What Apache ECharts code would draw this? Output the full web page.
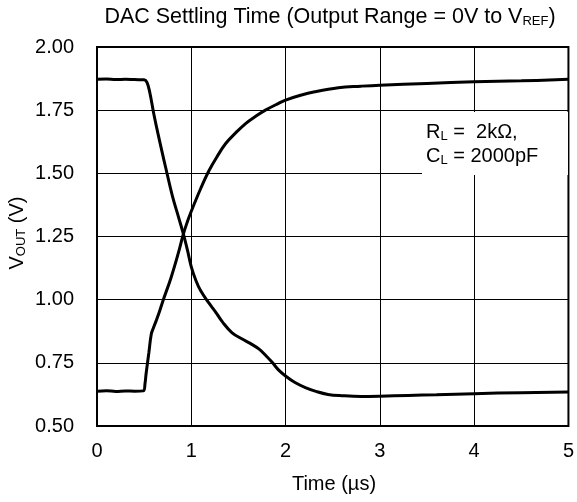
<!DOCTYPE html>
<html>
<head>
<meta charset="utf-8">
<script src="https://cdn.jsdelivr.net/npm/echarts@6/dist/echarts.min.js"></script>
<style>
html,body{margin:0;padding:0;background:#fff;}
#chart{width:577px;height:502px;}
</style>
</head>
<body>
<div id="chart"></div>
<script>
// Data
const fallTime = [0, 0.1, 0.2, 0.3, 0.4, 0.5, 0.53, 0.56, 0.6, 0.645, 0.69, 0.73, 0.8, 0.87, 0.916, 0.96, 1.0, 1.05, 1.1, 1.19, 1.26, 1.33, 1.43, 1.54, 1.63, 1.72, 1.8, 1.86, 1.93, 2.0, 2.1, 2.21, 2.33, 2.45, 2.6, 2.8, 3.0, 3.3, 3.6, 4.0, 4.5, 5.0];
const fallVolt = [1.872, 1.873, 1.871, 1.872, 1.871, 1.870, 1.86, 1.82, 1.74, 1.66, 1.585, 1.52, 1.41, 1.32, 1.26, 1.195, 1.13, 1.075, 1.035, 0.985, 0.95, 0.912, 0.87, 0.844, 0.826, 0.804, 0.775, 0.751, 0.72, 0.698, 0.672, 0.652, 0.636, 0.625, 0.62, 0.617, 0.618, 0.621, 0.624, 0.628, 0.632, 0.635];
const riseTime = [0, 0.1, 0.2, 0.3, 0.4, 0.49, 0.51, 0.52, 0.55, 0.576, 0.6, 0.628, 0.66, 0.70, 0.786, 0.874, 0.916, 0.96, 1.0, 1.1, 1.19, 1.28, 1.365, 1.47, 1.576, 1.68, 1.786, 1.926, 2.0, 2.15, 2.31, 2.56, 2.8, 3.0, 3.5, 4.0, 4.5, 5.0];
const riseVolt = [0.638, 0.64, 0.637, 0.639, 0.638, 0.639, 0.67, 0.705, 0.79, 0.864, 0.89, 0.917, 0.95, 0.996, 1.088, 1.20, 1.26, 1.31, 1.35, 1.44, 1.512, 1.57, 1.618, 1.66, 1.697, 1.725, 1.75, 1.777, 1.79, 1.808, 1.823, 1.839, 1.845, 1.849, 1.856, 1.862, 1.866, 1.872];
const xTicks = {min: 0, max: 5, interval: 1};
const yTicks = {min: 0.5, max: 2.0, interval: 0.25};

const FONT = '"Liberation Sans", Arial, sans-serif';
const zip = (a, b) => a.map((t, i) => [t, b[i]]);
const subStyle = (pad) => ({fontSize: 13, fontFamily: FONT, fill: '#000', padding: [pad, 0, 0, 0]});

const chart = echarts.init(document.getElementById('chart'), null, {renderer: 'canvas'});

chart.setOption({
  animation: false,
  backgroundColor: '#fff',
  grid: {left: 97, right: 6, top: 47, bottom: 76,
         show: true, borderColor: '#000', borderWidth: 2, backgroundColor: 'transparent'},
  xAxis: {
    type: 'value', min: xTicks.min, max: xTicks.max, interval: xTicks.interval,
    axisLine: {show: false}, axisTick: {show: false},
    splitLine: {show: true, lineStyle: {color: '#000', width: 1}},
    axisLabel: {color: '#000', fontSize: 20, fontFamily: FONT, margin: 15}
  },
  yAxis: {
    type: 'value', min: yTicks.min, max: yTicks.max, interval: yTicks.interval,
    axisLine: {show: false}, axisTick: {show: false},
    splitLine: {show: true, lineStyle: {color: '#000', width: 1}},
    axisLabel: {color: '#000', fontSize: 20, fontFamily: FONT, margin: 23,
                formatter: v => v.toFixed(2)}
  },
  series: [
    {type: 'line', data: zip(fallTime, fallVolt), showSymbol: false, smooth: 0.4,
     lineStyle: {color: '#000', width: 3}, z: 5},
    {type: 'line', data: zip(riseTime, riseVolt), showSymbol: false, smooth: 0.4,
     lineStyle: {color: '#000', width: 3}, z: 5}
  ],
  graphic: [
    {type: 'text', z: 10, x: 330, y: 17,
     style: {text: 'DAC Settling Time (Output Range = 0V to V{sub|REF})',
             rich: {sub: subStyle(8)},
             font: '21.5px ' + FONT, fill: '#000', textAlign: 'center', textVerticalAlign: 'middle'}},
    {type: 'rect', z: 8, shape: {x: 422, y: 112, width: 146, height: 63}, style: {fill: '#fff'}},
    {type: 'text', z: 10, x: 426, y: 132,
     style: {text: 'R{sub|L} =  2kΩ,', font: '20px ' + FONT, fill: '#000',
             textVerticalAlign: 'middle', rich: {sub: subStyle(9)}}},
    {type: 'text', z: 10, x: 426, y: 156,
     style: {text: 'C{sub|L} = 2000pF', font: '20px ' + FONT, fill: '#000',
             textVerticalAlign: 'middle', rich: {sub: subStyle(9)}}},
    {type: 'text', z: 10, rotation: Math.PI / 2, x: 17, y: 233,
     style: {text: 'V{sub|OUT} (V)', font: '20px ' + FONT, fill: '#000',
             textAlign: 'center', textVerticalAlign: 'middle', rich: {sub: subStyle(9)}}},
    {type: 'text', z: 10, x: 334, y: 484,
     style: {text: 'Time (µs)', font: '20px ' + FONT, fill: '#000',
             textAlign: 'center', textVerticalAlign: 'middle'}}
  ]
});
</script>
</body>
</html>
